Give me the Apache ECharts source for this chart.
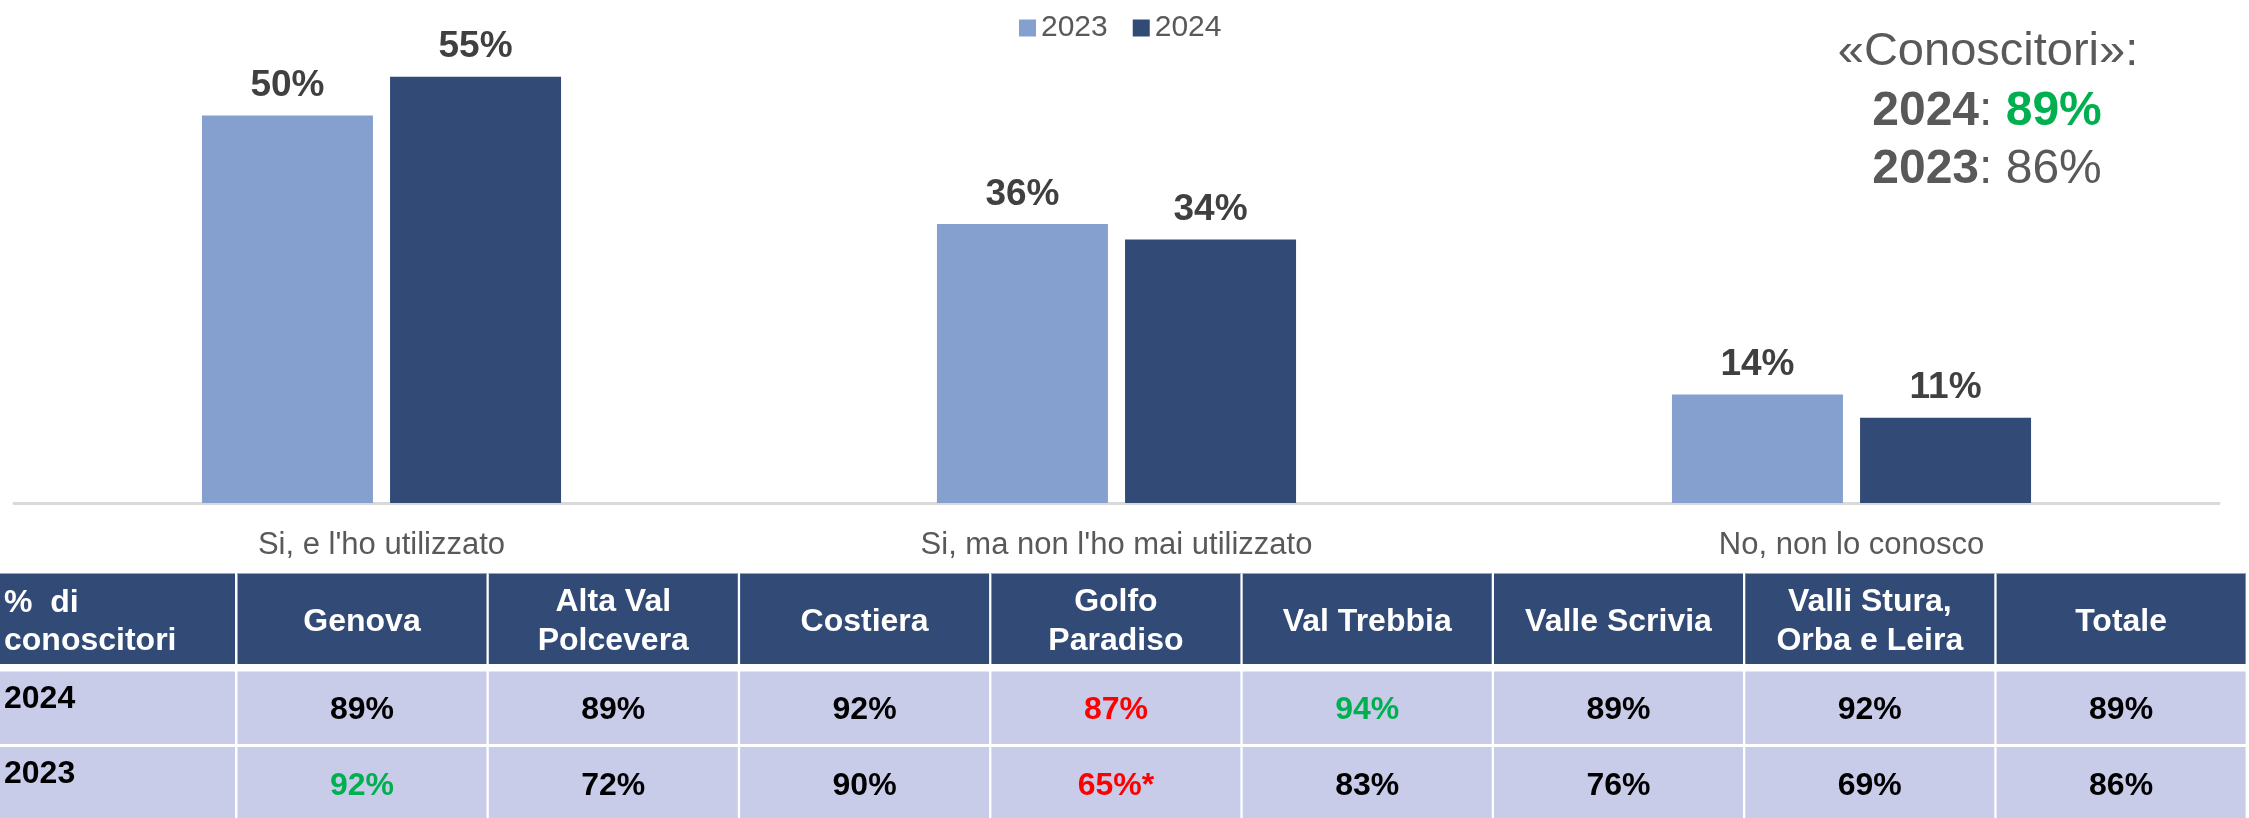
<!DOCTYPE html>
<html>
<head>
<meta charset="utf-8">
<script src="https://cdn.jsdelivr.net/npm/echarts@6/dist/echarts.min.js"></script>
<style>
html,body{margin:0;padding:0;background:#fff;}
#chart{width:2249px;height:818px;}
</style>
</head>
<body>
<div id="chart"></div>
<script>
// ---- data ----
const categories = ["Si, e l'ho utilizzato", "Si, ma non l'ho mai utilizzato", "No, non lo conosco"];
const seriesNames = ['2023', '2024'];
const values2023 = [50, 36, 14];
const values2024 = [55, 34, 11];

const knownTitle = '«Conoscitori»:';
const knownYears = ['2024', '2023'];
const knownTotals = [89, 86];

const tableCorner = '%  di\nconoscitori';
const regions = ['Genova', 'Alta Val\nPolcevera', 'Costiera', 'Golfo\nParadiso', 'Val Trebbia', 'Valle Scrivia', 'Valli Stura,\nOrba e Leira', 'Totale'];
const rowYears = ['2024', '2023'];
const share2024 = [89, 89, 92, 87, 94, 89, 92, 89];
const share2023 = [92, 72, 90, 65, 83, 76, 69, 86];
const notes2024 = ['', '', '', '', '', '', '', ''];
const notes2023 = ['', '', '', '*', '', '', '', ''];
const flags2024 = ['', '', '', 'low', 'high', '', '', ''];
const flags2023 = ['high', '', '', 'low', '', '', '', ''];

// ---- styling / layout ----
const FONT = '"Liberation Sans", Arial, sans-serif';
const C2023 = '#85A0CE';
const C2024 = '#314A76';
const HEAD = '#314A76';
const ROW = '#C8CCE9';
const GREEN = '#00B050';
const RED = '#FF0000';
const flagColor = f => f === 'high' ? GREEN : (f === 'low' ? RED : '#000000');

const chart = echarts.init(document.getElementById('chart'), null, {renderer: 'canvas'});

const graphics = [];
// annotation
graphics.push({
  type: 'text', x: 1988, y: 52,
  style: {text: knownTitle, font: '47px ' + FONT, fill: '#595959', align: 'center', verticalAlign: 'middle'}
});
knownYears.forEach((yr, i) => {
  const isNew = i === 0;
  graphics.push({
    type: 'text', x: 1987, y: 112 + i * 58,
    style: {
      text: '{b|' + yr + '}{r|: }' + (isNew ? '{g|' : '{r|') + knownTotals[i] + '%}',
      align: 'center', verticalAlign: 'middle',
      rich: {
        b: {fontSize: 48, fontWeight: 'bold', fontFamily: FONT, fill: '#595959', color: '#595959'},
        r: {fontSize: 48, fontFamily: FONT, fill: '#595959', color: '#595959'},
        g: {fontSize: 48, fontWeight: 'bold', fontFamily: FONT, fill: GREEN, color: GREEN}
      }
    }
  });
});

// table
const colX0 = 237.5, colStep = 251.3, cellW = 249;
const headY = 573, headH = 91;
const rowTops = [671.5, 747], rowHs = [72.5, 75];
const rows = [
  {vals: share2024, notes: notes2024, flags: flags2024},
  {vals: share2023, notes: notes2023, flags: flags2023}
];
// corner cell
graphics.push({type: 'rect', shape: {x: 0, y: headY, width: 235, height: headH}, style: {fill: HEAD}});
graphics.push({type: 'rect', shape: {x: 0, y: headY, width: 235, height: 1}, style: {fill: '#9AA5BD'}});
graphics.push({type: 'text', x: 4, y: 622, style: {text: tableCorner, font: 'bold 32px ' + FONT, fill: '#fff', align: 'left', verticalAlign: 'middle', lineHeight: 38}});
regions.forEach((r, i) => {
  const x = colX0 + i * colStep;
  graphics.push({type: 'rect', shape: {x: x, y: headY, width: cellW, height: headH}, style: {fill: HEAD}});
  graphics.push({type: 'rect', shape: {x: x, y: headY, width: cellW, height: 1}, style: {fill: '#9AA5BD'}});
  graphics.push({type: 'text', x: x + cellW / 2, y: 622, style: {text: r, font: 'bold 32px ' + FONT, fill: '#fff', align: 'center', verticalAlign: 'middle', lineHeight: 39}});
});
rows.forEach((row, ri) => {
  const top = rowTops[ri], h = rowHs[ri];
  graphics.push({type: 'rect', shape: {x: 0, y: top, width: 235, height: h}, style: {fill: ROW}});
  graphics.push({type: 'text', x: 4, y: top + 27.5, style: {text: rowYears[ri], font: 'bold 32px ' + FONT, fill: '#000', align: 'left', verticalAlign: 'middle'}});
  row.vals.forEach((v, i) => {
    const x = colX0 + i * colStep;
    graphics.push({type: 'rect', shape: {x: x, y: top, width: cellW, height: h}, style: {fill: ROW}});
    graphics.push({type: 'text', x: x + cellW / 2, y: top + 39, style: {text: v + '%' + row.notes[i], font: 'bold 32px ' + FONT, fill: flagColor(row.flags[i]), align: 'center', verticalAlign: 'middle'}});
  });
});

const option = {
  animation: false,
  backgroundColor: '#ffffff',
  textStyle: {fontFamily: FONT},
  legend: {
    data: seriesNames,
    left: 1014, top: 8,
    itemWidth: 17, itemHeight: 17, itemGap: 25,
    icon: 'rect',
    textStyle: {fontSize: 30, color: '#595959', fontFamily: FONT}
  },
  grid: {left: 14, right: 30, top: 38, bottom: 315, containLabel: false},
  xAxis: {
    type: 'category',
    data: categories,
    axisTick: {show: false},
    axisLine: {lineStyle: {color: '#D9D9D9', width: 3}},
    axisLabel: {fontSize: 31, color: '#595959', margin: 27, fontFamily: FONT}
  },
  yAxis: {type: 'value', min: 0, max: 60, show: false, splitLine: {show: false}},
  series: [
    {
      name: seriesNames[0], type: 'bar', data: values2023, barWidth: 171, barGap: '10%',
      itemStyle: {color: C2023},
      label: {show: true, position: 'top', distance: 11, formatter: '{c}%', fontSize: 37, fontWeight: 'bold', color: '#404040', fontFamily: FONT}
    },
    {
      name: seriesNames[1], type: 'bar', data: values2024, barWidth: 171, barGap: '10%',
      itemStyle: {color: C2024},
      label: {show: true, position: 'top', distance: 11, formatter: '{c}%', fontSize: 37, fontWeight: 'bold', color: '#404040', fontFamily: FONT}
    }
  ],
  graphic: graphics
};
chart.setOption(option);
</script>
</body>
</html>
